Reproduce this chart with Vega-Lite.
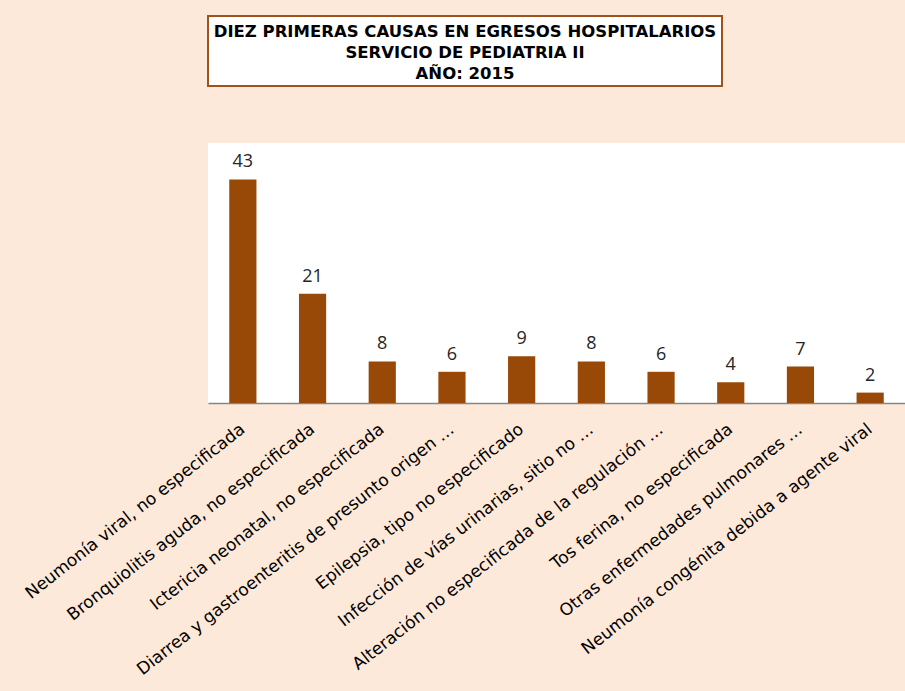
{
  "$schema": "https://vega.github.io/schema/vega-lite/v6.json",
  "background": "#FDE9D9",
  "padding": {"left": 21, "top": 15, "right": 0, "bottom": 40},
  "spacing": 57,
  "bounds": "flush",
  "config": {"font": "Open Sans", "view": {"stroke": null}},
  "vconcat": [
    {
      "width": 514,
      "height": 70,
      "view": {"fill": "white", "stroke": "#A0521C", "strokeWidth": 2},
      "data": {"values": [{"titulo": ["DIEZ PRIMERAS CAUSAS EN EGRESOS HOSPITALARIOS", "SERVICIO DE PEDIATRIA II", "AÑO: 2015"]}]},
      "mark": {"type": "text", "font": "DejaVu Sans", "fontWeight": "bold", "fontSize": 16.5, "lineHeight": 21, "color": "#000000", "baseline": "middle", "align": "center", "dy": -19},
      "encoding": {"text": {"field": "titulo", "type": "nominal"}}
    },
    {
      "width": 697,
      "height": 260,
      "view": {"fill": "white", "stroke": null},
      "data": {"values": [
        {"causa": "Neumonía viral, no especificada", "egresos": 43},
        {"causa": "Bronquiolitis aguda, no especificada", "egresos": 21},
        {"causa": "Ictericia neonatal, no especificada", "egresos": 8},
        {"causa": "Diarrea y gastroenteritis de presunto origen …", "egresos": 6},
        {"causa": "Epilepsia, tipo no especificado", "egresos": 9},
        {"causa": "Infección de vías urinarias, sitio no …", "egresos": 8},
        {"causa": "Alteración no especificada de la regulación …", "egresos": 6},
        {"causa": "Tos ferina, no especificada", "egresos": 4},
        {"causa": "Otras enfermedades pulmonares …", "egresos": 7},
        {"causa": "Neumonía congénita debida a agente viral", "egresos": 2}
      ]},
      "encoding": {
        "x": {
          "field": "causa", "type": "nominal", "sort": null,
          "scale": {"paddingInner": 0.61, "paddingOuter": 0.305},
          "axis": {"title": null, "ticks": false, "domainColor": "#868686", "domainWidth": 1.5, "labelAngle": -38, "labelAlign": "right", "labelBaseline": "middle", "labelFont": "DejaVu Sans", "labelFontSize": 17, "labelColor": "#000000", "labelPadding": 24, "labelLimit": 500}
        },
        "y": {"field": "egresos", "type": "quantitative", "scale": {"domain": [0, 50]}, "axis": null}
      },
      "layer": [
        {"mark": {"type": "bar", "color": "#984807"}},
        {"mark": {"type": "text", "baseline": "bottom", "dy": -8, "fontSize": 18, "color": "#262626"}, "encoding": {"text": {"field": "egresos", "type": "quantitative"}}}
      ]
    }
  ]
}
